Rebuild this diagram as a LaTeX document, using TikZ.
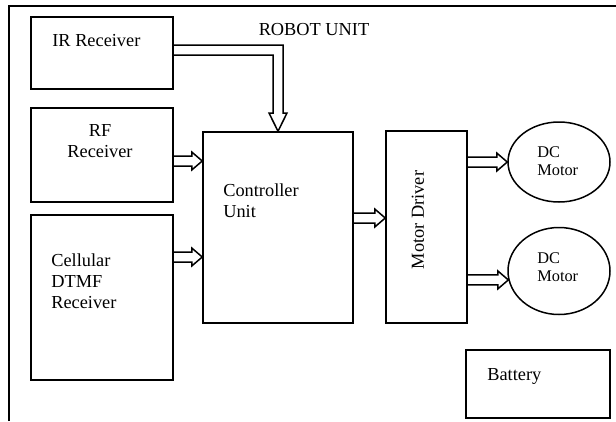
\documentclass[tikz,border=0pt]{standalone}
\usepackage{fontspec}
\setmainfont{Liberation Serif}
\usetikzlibrary{calc,fit,shapes.geometric}
\tikzset{
  box/.style={draw, line width=0.9pt, inner sep=0pt},
  motor/.style={draw, ellipse, line width=0.9pt, inner sep=0pt, minimum width=61.2pt},
  txt/.style={inner sep=0pt, font=\fontsize{11}{12.6}\selectfont, align=left},
  smalltxt/.style={inner sep=0pt, font=\fontsize{9.8}{10.8}\selectfont, align=left},
  arrowline/.style={draw, line width=0.9pt, line join=miter},
  harrow/.style={arrowline, to path={
    ($(\tikztostart)+(0,3pt)$) -- ($(\tikztotarget)+(-6.3pt,3pt)$)
    -- ($(\tikztotarget)+(-6.3pt,5.4pt)$) -- (\tikztotarget)
    -- ($(\tikztotarget)+(-6.3pt,-5.4pt)$) -- ($(\tikztotarget)+(-6.3pt,-3pt)$)
    -- ($(\tikztostart)+(0,-3pt)$)}},
}
\begin{document}
\begin{tikzpicture}[x=0.6pt,y=-0.6pt]
\useasboundingbox (0,0) rectangle (616,421);
% outer frame
\draw[line width=1.2pt] (9,421) -- (9,6) -- (616,6);
\node[txt, anchor=base] (title) at (314,35) {ROBOT UNIT};
% blocks
\node[box, fit={(31,17) (173,89)}] (ir) {};
\node[box, fit={(31,108) (173,202)}] (rf) {};
\node[box, fit={(31,215) (173,380)}] (cell) {};
\node[box, fit={(203,132) (353,323)}] (ctrl) {};
\node[box, fit={(386,131) (467,323)}] (md) {};
\node[box, fit={(466,350) (610,418)}] (bat) {};
\node[motor, minimum height=48pt] (dc1) at (559,162) {};
\node[motor, minimum height=52.2pt] (dc2) at (559,271) {};
% labels (base = last line)
\node[txt, anchor=base west] (irlab) at (52,46) {IR Receiver};
\node[txt, anchor=base, align=center] (rflab) at (100,157) {RF\\Receiver};
\node[txt, anchor=base west] (celllab) at (51,308) {Cellular\\DTMF\\Receiver};
\node[txt, anchor=base west] (ctrllab) at (223,217) {Controller\\Unit};
\node[txt, rotate=90] (mdlab) at (418,220) {Motor Driver};
\node[smalltxt, anchor=base west] (dc1lab) at (537,175) {DC\\Motor};
\node[smalltxt, anchor=base west] (dc2lab) at (537,281) {DC\\Motor};
\node[txt, anchor=base west] (batlab) at (487,380) {Battery};
% arrows
\coordinate (bend) at (278,50);
\path[arrowline] (ir.east |- 0,45) -- (283,45) -- (283,113) -- (287,113)
  -- (ctrl.north -| bend) -- (269,113) -- (273,113) -- (273,55) -- (ir.east |- 0,55);
\path[harrow] (rf.east |- 0,161) to (ctrl.west |- 0,161);
\path[harrow] (cell.east |- 0,257) to (ctrl.west |- 0,257);
\path[harrow] (ctrl.east |- 0,218) to (md.west |- 0,218);
\path[harrow] (md.east |- dc1.west) to (dc1.west);
\path[harrow] (md.east |- dc2.190) to (dc2.190);
\end{tikzpicture}
\end{document}
